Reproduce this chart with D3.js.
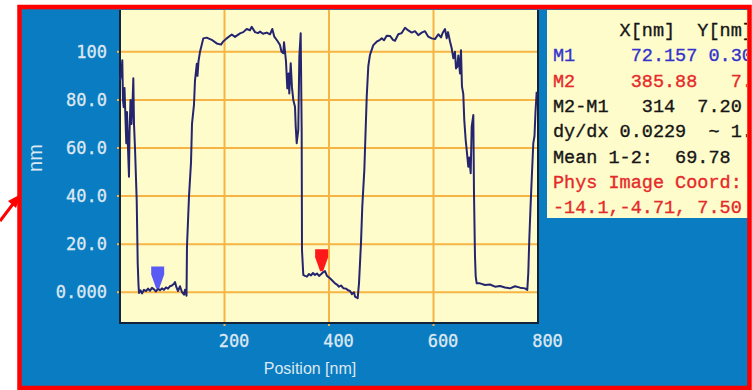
<!DOCTYPE html>
<html>
<head>
<meta charset="utf-8">
<script src="https://cdn.jsdelivr.net/npm/d3@7"></script>
<style>
  html, body { margin: 0; padding: 0; background: #fff; }
  svg { display: block; }
</style>
</head>
<body>
<svg id="viz-profile"></svg>
<script>
(function() {

// profile: [position nm, height nm]
const profile = [
  [0, 88], [2.9, 92], [4.4, 96.5], [5.7, 80], [7.1, 77], [8.6, 85], [10.5, 72], [12, 62],
  [13.4, 75], [15.3, 60], [17.2, 48], [18.2, 66], [20.1, 80], [22, 70], [23.9, 78], [25.5, 89],
  [26.8, 70], [28.7, 60], [32, 38], [33.9, 12], [35.4, 3], [36.4, -0.3],
  [39.2, 0.8], [42.1, -0.5], [45.9, 1], [49.8, 0.5], [53.6, 1.5], [57.4, 0.6], [61.2, 1.8],
  [65.1, 1.2], [68.9, 0.3], [72.7, 1.5], [76.6, 0.8], [80.4, 1.6], [84.2, 1.0], [88, 2.0],
  [91.9, 1.5], [95.7, 2.5], [99.5, 2.8], [103.3, 3.5], [105.3, 4.2], [108.1, 2], [111, 0.5],
  [114.8, 2.5], [118.7, 0], [122.5, -1], [124.4, 1], [127.3, -1.5],
  [128.2, 19], [132.1, 40], [135.9, 54], [137.8, 70], [141.6, 78], [143.5, 88], [145.5, 92],
  [147, 95], [148.3, 90], [150.2, 96], [153.1, 100], [156, 102.5], [159.4, 105.6], [165.9, 105.9],
  [175.5, 105], [185.1, 103.5], [193.3, 103], [197.1, 104.2], [204.2, 105.6], [213.8, 107.2],
  [220.1, 106.2], [229.7, 107.7], [236, 108.2], [242.5, 109.5], [248.8, 109], [252.1, 110.4],
  [258.4, 108.2], [264.1, 107.8], [268, 108.4], [273.7, 107.5], [280.8, 108], [287.1, 107.3],
  [291.5, 109.5], [295.3, 106.3], [301.4, 104.5], [306.2, 102.8], [309.1, 100], [312.5, 99.4],
  [313.9, 104], [317.7, 96], [320.2, 84.8], [322.5, 91], [324, 82.7], [326.7, 95.2], [329.2, 85],
  [331.7, 80], [334.9, 77.2], [336.3, 68.9], [338.2, 62], [341.2, 67.5], [343.2, 98], [345.8, 107.7],
  [347.7, 67.5], [348.3, 17.6], [350.8, 7.2],
  [354.1, 6.8], [357.9, 6.5], [361.7, 7.6], [365.6, 7.0], [369.4, 8.0], [373.2, 7.2], [377, 7.8],
  [380.9, 6.8], [384.7, 7.5], [388.5, 8.3], [392.3, 8.8], [396.2, 6.8], [401.9, 5.8], [405.7, 5.0],
  [411.5, 3.7], [415.3, 3.2], [419.1, 2.3], [423, 2.8], [427.4, 1.7], [432.5, 1.5], [436.4, 0.8],
  [440.2, 0.5], [444, -0.8], [447.8, 0], [449.8, -1.8], [454.9, -2.5],
  [457.4, 3.7], [461.2, 20.4], [463.7, 35.6], [467.6, 50.8], [469.9, 66], [472.2, 81.3], [475.2, 94],
  [478.5, 98.8], [480.4, 100], [484.8, 102.8], [491.3, 104.2], [497.6, 105], [500.9, 105.6],
  [505.3, 104.8], [510.4, 106.7], [516.7, 106.6], [522.5, 105], [526.3, 104.6], [532.6, 107.3],
  [539.1, 107.8], [545.5, 110], [551.8, 108.9], [558.3, 108], [564.6, 108.6], [570.9, 106.9],
  [577.4, 108], [583.7, 108.6], [590, 106.3], [596.5, 105.6], [602.9, 105.3], [609.2, 107.3],
  [614.4, 106], [617.2, 107.7], [622, 109.5], [625.3, 105.6], [627.8, 108.2], [631.6, 104.3],
  [634.8, 101.5], [638, 97.3], [641.1, 100], [643.1, 93.1], [645.6, 93.8], [647.5, 98.5],
  [650.7, 91], [652.6, 100.7], [654.5, 85.5], [657, 82.5], [658.9, 71.6], [661.6, 63.3],
  [663.5, 59.2], [666.6, 52.2], [668.5, 56], [671.2, 49.5], [673.1, 68.9], [676.2, 73.7],
  [677.5, 41.2], [679.4, 15], [680.8, 6.5], [682.7, 3.7],
  [689, 3.7], [698.6, 3.0], [708.1, 3.2], [717.7, 2.3], [727.3, 2.6], [736.8, 2.0], [746.4, 1.6],
  [756, 2.5], [765.6, 1.9], [775.1, 1.6], [779.5, 1], [781.4, 7.9], [783.3, 21.7], [785.6, 35],
  [787.9, 46.7], [791, 62], [793.3, 65], [795.2, 75], [797.5, 83.4]
];

const xTicks = [200, 400, 600, 800];
const yTicks = [0, 20, 40, 60, 80, 100];
const yTickLabels = ["0.000", "20.0", "40.0", "60.0", "80.0", "100"];

const markers = [
  { name: "M1", x: 72.157, y: 0.30 },
  { name: "M2", x: 385.88, y: 7.5 }
];
const markerColors = { M1: "#5a5af5", M2: "#ff1a1a" };

// readout rows, the right column is cut by the window edge
const infoRows = [
  { text: "      X[nm]  Y[nm]", kind: "plain" },
  { text: "M1     72.157 0.300", kind: "M1" },
  { text: "M2     385.88   7.50", kind: "M2" },
  { text: "M2-M1   314  7.20", kind: "plain" },
  { text: "dy/dx 0.0229  ~ 1.31", kind: "plain" },
  { text: "Mean 1-2:  69.78", kind: "plain" },
  { text: "Phys Image Coord:", kind: "phys" },
  { text: "-14.1,-4.71, 7.50", kind: "phys" }
];
const infoColors = { plain: "#161616", M1: "#3333cc", M2: "#e52a2a", phys: "#e52a2a" };

const W = 752, H = 390;
const plot = { left: 120, right: 538, top: 10, bottom: 323 };
const blue = "#0a7cc1";
const paper = "#fffccc";
const gridColor = "#f5b443";
const labelColor = "#dde8f2";

const svg = d3.select("#viz-profile")
    .attr("width", W)
    .attr("height", H);

svg.append("rect").attr("width", W).attr("height", H).attr("fill", "#fff");

// blue instrument window
svg.append("rect")
    .attr("x", 20).attr("y", 7)
    .attr("width", 729).attr("height", 381)
    .attr("fill", blue);

const x = d3.scaleLinear().domain([0, 800]).range([plot.left, plot.right]);
const y = d3.scaleLinear().domain([-12.8, 117.4]).range([plot.bottom, plot.top]);

// plot paper
svg.append("rect")
    .attr("x", plot.left).attr("y", plot.top)
    .attr("width", plot.right - plot.left)
    .attr("height", plot.bottom - plot.top)
    .attr("fill", paper);

// grid
svg.append("g")
    .selectAll("line")
    .data(yTicks)
    .enter().append("line")
    .attr("x1", plot.left - 3).attr("x2", plot.right)
    .attr("y1", d => y(d)).attr("y2", d => y(d))
    .attr("stroke", gridColor)
    .attr("stroke-width", 2);

svg.append("g")
    .selectAll("line")
    .data(xTicks.filter(d => d < 800))
    .enter().append("line")
    .attr("x1", d => x(d)).attr("x2", d => x(d))
    .attr("y1", plot.top).attr("y2", plot.bottom + 3)
    .attr("stroke", gridColor)
    .attr("stroke-width", 2);

// frame
svg.append("path")
    .attr("d", `M${plot.left},${plot.top}V${plot.bottom}H${plot.right}V${plot.top}`)
    .attr("fill", "none")
    .attr("stroke", "#13243a")
    .attr("stroke-width", 2);

// tick labels
svg.append("g")
    .selectAll("text")
    .data(yTicks)
    .enter().append("text")
    .attr("x", 107)
    .attr("y", d => y(d))
    .attr("dy", "0.36em")
    .attr("text-anchor", "end")
    .attr("font-family", "DejaVu Sans Mono")
    .attr("font-size", "17px")
    .attr("fill", labelColor)
    .attr("stroke", labelColor)
    .attr("stroke-width", 0.3)
    .text((d, i) => yTickLabels[i]);

svg.append("g")
    .selectAll("text")
    .data(xTicks)
    .enter().append("text")
    .attr("x", d => x(d) + 9.5)
    .attr("y", 347)
    .attr("text-anchor", "middle")
    .attr("font-family", "DejaVu Sans Mono")
    .attr("font-size", "17px")
    .attr("fill", labelColor)
    .attr("stroke", labelColor)
    .attr("stroke-width", 0.3)
    .text(d => d);

svg.append("text")
    .attr("x", 310)
    .attr("y", 374)
    .attr("text-anchor", "middle")
    .attr("font-family", "Liberation Sans")
    .attr("font-size", "16px")
    .attr("fill", labelColor)
    .text("Position [nm]");

svg.append("text")
    .attr("transform", "translate(42,158) rotate(-90)")
    .attr("text-anchor", "middle")
    .attr("font-family", "Liberation Sans")
    .attr("font-size", "20px")
    .attr("fill", labelColor)
    .text("nm");

// profile line
const line = d3.line()
    .x(d => x(d[0]))
    .y(d => y(d[1]));

svg.append("path")
    .datum(profile)
    .attr("d", line)
    .attr("fill", "none")
    .attr("stroke", "#25256f")
    .attr("stroke-width", 2)
    .attr("stroke-linejoin", "round");

// cursor markers
svg.append("g")
    .selectAll("path")
    .data(markers)
    .enter().append("path")
    .attr("transform", d => `translate(${x(d.x)},${y(d.y) - 3})`)
    .attr("d", "M-6.5,-22H6.5V-14L1.5,0H-1.5L-6.5,-14Z")
    .attr("fill", d => markerColors[d.name]);

// readout panel
const panel = { x: 547, y: 10, w: 205, h: 208 };
svg.append("clipPath")
    .attr("id", "panel-clip")
    .append("rect")
    .attr("x", panel.x).attr("y", panel.y)
    .attr("width", 200).attr("height", panel.h);

svg.append("rect")
    .attr("x", panel.x).attr("y", panel.y)
    .attr("width", panel.w).attr("height", panel.h)
    .attr("fill", paper);

svg.append("g")
    .attr("clip-path", "url(#panel-clip)")
    .selectAll("text")
    .data(infoRows)
    .enter().append("text")
    .attr("x", 553)
    .attr("y", (d, i) => 36 + i * 25.3)
    .attr("xml:space", "preserve")
    .style("white-space", "pre")
    .attr("font-family", "Liberation Mono")
    .attr("font-size", "18.5px")
    .attr("fill", d => infoColors[d.kind])
    .attr("stroke", d => infoColors[d.kind])
    .attr("stroke-width", 0.35)
    .text(d => d.text);

// red highlight frame and arrow
svg.append("rect")
    .attr("x", 19.5).attr("y", 7)
    .attr("width", 730).attr("height", 381)
    .attr("fill", "none")
    .attr("stroke", "#ff0000")
    .attr("stroke-width", 4.5);

svg.append("line")
    .attr("x1", 0).attr("y1", 221)
    .attr("x2", 13).attr("y2", 204)
    .attr("stroke", "#ff0000")
    .attr("stroke-width", 3);
svg.append("path")
    .attr("d", "M21,194L8,201L16,208Z")
    .attr("fill", "#ff0000");

})();
</script>
</body>
</html>
